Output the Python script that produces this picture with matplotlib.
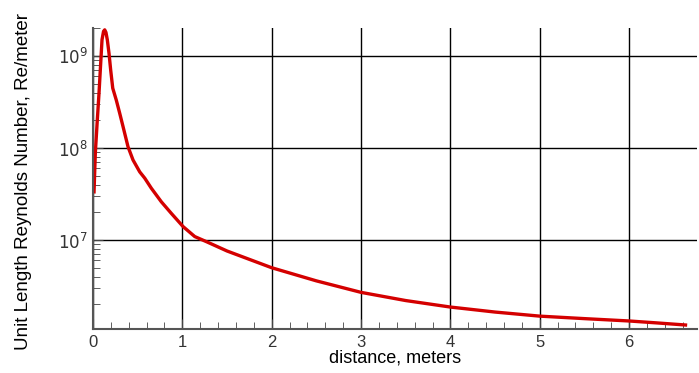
import matplotlib
matplotlib.use("Agg")
import matplotlib.pyplot as plt
from matplotlib.ticker import LogLocator, MultipleLocator, FixedLocator, NullFormatter

# Data
distance = [0.011, 0.026, 0.048, 0.067, 0.086, 0.101, 0.118, 0.131, 0.145, 0.160, 0.179, 0.198, 0.221, 0.261,
            0.299, 0.336, 0.392, 0.448, 0.523, 0.579, 0.653, 0.765, 0.876, 1.008, 1.139, 1.269,
            1.5, 2.0, 2.5, 3.0, 3.5, 4.0, 4.5, 5.0, 5.5, 6.0, 6.3, 6.65]
reynolds = [3.2e7, 8.8e7, 2.0e8, 3.9e8, 8.3e8, 1.5e9, 1.85e9, 1.92e9, 1.8e9, 1.5e9, 1.07e9, 7.0e8, 4.46e8, 3.3e8,
            2.38e8, 1.71e8, 1.03e8, 7.4e7, 5.5e7, 4.7e7, 3.65e7, 2.6e7, 1.95e7, 1.4e7, 1.09e7, 9.6e6,
            7.6e6, 5.0e6, 3.6e6, 2.7e6, 2.2e6, 1.87e6, 1.65e6, 1.49e6, 1.40e6, 1.32e6, 1.26e6, 1.19e6]
x_ticks = [0, 1, 2, 3, 4, 5, 6]
y_ticks = [1e7, 1e8, 1e9]
y_tick_labels = ["$10^7$", "$10^8$", "$10^9$"]

fig = plt.figure(figsize=(6.99, 3.73), dpi=100)
ax = fig.add_axes([93/699, 44/373, 604/699, 301/373])

ax.plot(distance, reynolds, color="#d40000", lw=2.4, solid_capstyle="butt", solid_joinstyle="round")
ax.set_yscale("log")
ax.set_xlim(0, 6.76)
ax.set_ylim(1.08e6, 2.01e9)

ax.xaxis.set_major_locator(FixedLocator(x_ticks))
ax.xaxis.set_minor_locator(MultipleLocator(0.2))
ax.yaxis.set_major_locator(FixedLocator(y_ticks))
ax.set_yticklabels(y_tick_labels)
ax.yaxis.set_minor_locator(LogLocator(base=10, subs=range(2, 10)))
ax.yaxis.set_minor_formatter(NullFormatter())
ax.set_xticklabels([str(t) for t in x_ticks])

ax.grid(True, which="major", color="black", lw=1)
ax.tick_params(which="both", direction="in", color="#444444")
ax.tick_params(which="major", length=7, labelsize=12, labelcolor="#333333")
ax.tick_params(which="minor", length=5)
ax.tick_params(axis="x", pad=4)
for s in ["top", "right"]:
    ax.spines[s].set_visible(False)
for s in ["left", "bottom"]:
    ax.spines[s].set_color("#555555")
    ax.spines[s].set_linewidth(1.5)

font = "Liberation Sans"
for lab in ax.get_xticklabels() + ax.get_yticklabels():
    lab.set_family(font)
    lab.set_fontweight("light")

ax.set_xlabel("distance, meters", family=font, fontsize=13, labelpad=0)
ax.set_ylabel("Unit Length Reynolds Number, Re/meter", family=font, fontsize=13.5)
ax.yaxis.set_label_coords(-0.101, 0.49)
ax.set_axisbelow(True)

fig.savefig("out.png", dpi=100)
